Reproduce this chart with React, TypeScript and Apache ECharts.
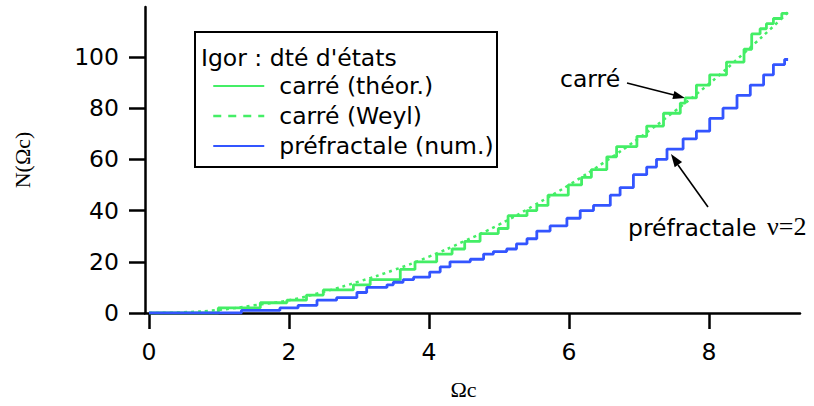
import React, { useEffect, useRef } from 'react';
import * as echarts from 'echarts';

// Step function N(Ωc) for the square (theory): jump positions and counts
const squareX = [0, 0.99, 1.59, 1.97, 2.25, 2.49, 2.92, 3.16, 3.59, 3.8, 4.11, 4.33, 4.51, 4.73, 4.99, 5.13, 5.4, 5.54, 5.7, 5.99, 6.18, 6.32, 6.54, 6.68, 6.97, 7.11, 7.35, 7.59, 7.66, 7.82, 8.01, 8.25, 8.5, 8.61, 8.73, 8.82, 8.92, 9.04, 9.13];
const squareN = [0, 2, 4, 5, 7, 9, 11, 13, 17, 20, 23, 25, 28, 31, 33, 38, 40, 42, 46, 50, 53, 56, 61, 65, 69, 73, 78, 82, 84, 89, 93, 98, 103, 109, 111, 113, 115, 117, 117];

// Weyl estimate for the square
const weylX = [0, 0.5, 1.0, 1.5, 2.0, 2.5, 3.0, 3.5, 4.0, 4.5, 5.0, 5.5, 6.0, 6.5, 7.0, 7.5, 8.0, 8.5, 9.0, 9.13];
const weylN = [0, 0.3, 1.2, 3, 5, 8.3, 12.3, 16.8, 22, 28, 34.5, 42, 50, 58.8, 68.3, 78.6, 89.5, 101.5, 114, 117.5];

// Prefractal (numerical)
const fractalX = [0, 1.32, 1.87, 2.13, 2.4, 2.68, 2.97, 3.11, 3.4, 3.49, 3.63, 3.78, 4.01, 4.16, 4.3, 4.59, 4.78, 4.92, 5.11, 5.25, 5.4, 5.54, 5.73, 5.97, 6.16, 6.35, 6.59, 6.73, 6.92, 7.11, 7.25, 7.4, 7.63, 7.82, 8.01, 8.2, 8.4, 8.59, 8.78, 8.92, 9.08, 9.13];
const fractalN = [0, 1, 2, 3, 5, 6, 8, 10, 11, 12, 13, 14, 16, 18, 20, 21, 23, 24, 25, 27, 29, 32, 34, 37, 40, 42, 46, 49, 54, 57, 60, 64, 68, 71, 76, 80, 85, 89, 93, 97, 99, 99];

const xTicks = [0, 2, 4, 6, 8];
const yTicks = [0, 20, 40, 60, 80, 100];

const seriesNames = ['carré (théor.)', 'carré (Weyl)', 'préfractale (num.)'];

const SANS = 'DejaVu Sans';
const SERIF = 'Liberation Serif';
const GREEN = '#44ee66';
const BLUE = '#3355ff';

const zip = (xs: number[], ys: number[]) => xs.map((x, i) => [x, ys[i]]);

export default function App() {
  const ref = useRef<HTMLDivElement>(null);
  useEffect(() => {
    if (!ref.current) return;
    const chart = echarts.init(ref.current, null, { renderer: 'svg' });
    const axisFont = { fontFamily: SANS, fontSize: 23.5, color: '#000' };
    chart.setOption({
      animation: false,
      backgroundColor: '#fff',
      grid: { left: 145, right: 14, top: 7, bottom: 93, containLabel: false, outerBoundsMode: 'none' },
      xAxis: {
        type: 'value',
        min: -0.057,
        max: 9.3,
        axisLine: { onZero: true, lineStyle: { color: '#000', width: 2.5 } },
        axisTick: { show: true, length: 16, lineStyle: { color: '#000', width: 2.5 }, customValues: xTicks },
        axisLabel: { ...axisFont, margin: 27, customValues: xTicks },
        splitLine: { show: false },
        name: 'Ωc',
        nameLocation: 'middle',
        nameGap: 65,
        nameTextStyle: { fontFamily: SERIF, fontSize: 22, color: '#000', padding: [0, 18, 0, 0] },
      },
      yAxis: {
        type: 'value',
        min: 0,
        max: 119.5,
        axisLine: { show: true, onZero: false, lineStyle: { color: '#000', width: 2.5 } },
        axisTick: { show: true, length: 16, lineStyle: { color: '#000', width: 2.5 }, customValues: yTicks },
        axisLabel: { ...axisFont, margin: 26, customValues: yTicks },
        splitLine: { show: false },
        name: 'N(Ωc)',
        nameLocation: 'middle',
        nameRotate: 90,
        nameGap: 112,
        nameTextStyle: { fontFamily: SERIF, fontSize: 22, color: '#000' },
      },
      legend: {
        orient: 'vertical',
        left: 207,
        top: 69,
        itemWidth: 51,
        itemHeight: 14,
        itemGap: 6,
        selectedMode: false,
        itemStyle: { color: 'transparent', borderWidth: 0, opacity: 0 },
        textStyle: { fontFamily: SANS, fontSize: 23.5, color: '#000', padding: [0, 0, 0, 10] },
        data: [
          { name: seriesNames[0] },
          { name: seriesNames[1], lineStyle: { type: [8, 7], width: 2.5, color: GREEN } },
          { name: seriesNames[2] },
        ],
      },
      series: [
        {
          name: seriesNames[0],
          type: 'line',
          step: 'end',
          symbol: 'none',
          data: zip(squareX, squareN),
          lineStyle: { color: GREEN, width: 2.8 },
          itemStyle: { color: GREEN },
          z: 2,
        },
        {
          name: seriesNames[1],
          type: 'line',
          smooth: true,
          symbol: 'none',
          data: zip(weylX, weylN),
          lineStyle: { color: GREEN, width: 2.5, type: [3, 4] },
          itemStyle: { color: GREEN },
          z: 3,
        },
        {
          name: seriesNames[2],
          type: 'line',
          step: 'end',
          symbol: 'none',
          data: zip(fractalX, fractalN),
          lineStyle: { color: BLUE, width: 2.8 },
          itemStyle: { color: BLUE },
          z: 4,
        },
      ],
      graphic: [
        {
          type: 'rect',
          shape: { x: 195, y: 32, width: 302, height: 135 },
          style: { fill: 'transparent', stroke: '#000', lineWidth: 2 },
          z: 1,
        },
        {
          type: 'text',
          x: 201,
          y: 58,
          style: { text: "Igor : dté d'états", fontFamily: SANS, fontSize: 23.5, fill: '#000', verticalAlign: 'middle' },
        },
        {
          type: 'text',
          x: 560,
          y: 79,
          style: { text: 'carré', fontFamily: SANS, fontSize: 23.5, fill: '#000', verticalAlign: 'middle' },
        },
        {
          type: 'text',
          x: 628,
          y: 228,
          style: { text: 'préfractale', fontFamily: SANS, fontSize: 23.5, fill: '#000', verticalAlign: 'middle' },
        },
        {
          type: 'text',
          x: 767,
          y: 226,
          style: { text: 'ν=2', fontFamily: SERIF, fontSize: 26, fill: '#000', verticalAlign: 'middle' },
        },
        {
          type: 'line',
          shape: { x1: 627, y1: 83, x2: 674, y2: 95 },
          style: { stroke: '#000', lineWidth: 1.6 },
        },
        {
          type: 'polygon',
          shape: { points: [[685, 98], [672.4, 98.9], [674.4, 91.1]] },
          style: { fill: '#000' },
        },
        {
          type: 'line',
          shape: { x1: 708, y1: 207, x2: 678, y2: 165 },
          style: { stroke: '#000', lineWidth: 1.6 },
        },
        {
          type: 'polygon',
          shape: { points: [[671, 154], [682.1, 162.1], [674.7, 167.3]] },
          style: { fill: '#000' },
        },
      ],
    });
    return () => chart.dispose();
  }, []);
  return <div ref={ref} style={{ width: 814, height: 406, position: 'absolute', left: 0, top: 0 }} />;
}
